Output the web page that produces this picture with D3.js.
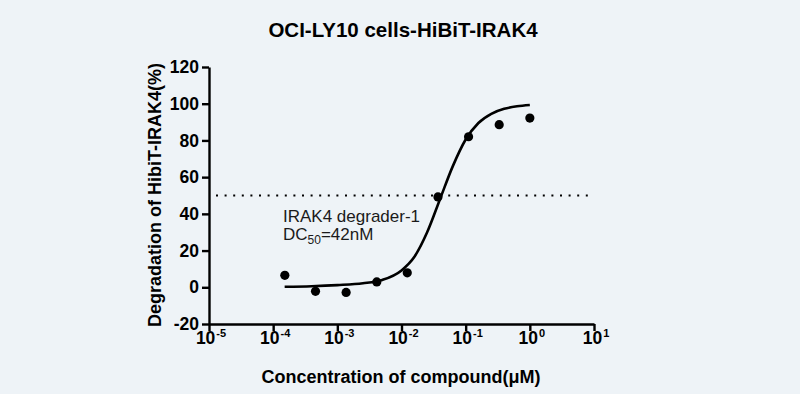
<!DOCTYPE html>
<html>
<head>
<meta charset="utf-8">
<title>OCI-LY10 cells-HiBiT-IRAK4</title>
<script src="https://d3js.org/d3.v7.min.js"></script>
<style>
  body { margin: 0; background: #eef3f7; }
  svg { display: block; font-family: Arial, "Liberation Sans", sans-serif; }
</style>
</head>
<body>
<div id="chart"></div>
<script>
// measured points: concentration (uM) and degradation (%)
var concentrations = [0.000152, 0.000457, 0.00137, 0.00412, 0.0123, 0.037, 0.111, 0.333, 1];
var degradation = [6.5, -2.2, -2.8, 2.9, 7.9, 49.2, 82, 88.6, 92.2];

// fitted curve
var curveConc = [0.000151, 0.000398, 0.001, 0.00251, 0.00501, 0.01, 0.0158, 0.0251, 0.0398, 0.0631, 0.1, 0.158, 0.251, 0.398, 0.631, 1];
var curveDeg = [0.3, 0.6, 1.2, 2.2, 4.0, 9.2, 16.5, 30, 48, 66, 80.5, 89.5, 94.5, 97.2, 98.6, 99.3];

var xTicks = [1e-5, 1e-4, 1e-3, 1e-2, 1e-1, 1, 10];
var xExponents = ["-5", "-4", "-3", "-2", "-1", "0", "1"];
var yTicks = [-20, 0, 20, 40, 60, 80, 100, 120];
var halfLine = 50;

var width = 800, height = 394;

var svg = d3.select("#chart").append("svg")
    .attr("width", width)
    .attr("height", height);

svg.append("rect").attr("width", width).attr("height", height).attr("fill", "#eef3f7");

var x = d3.scaleLog().domain([1e-5, 10]).range([209, 594]);
var y = d3.scaleLinear().domain([-20, 120]).range([324, 67]);

// title
svg.append("text")
    .attr("x", 403).attr("y", 37)
    .attr("text-anchor", "middle")
    .style("font-size", "20.5px").style("font-weight", "bold")
    .text("OCI-LY10 cells-HiBiT-IRAK4");

// dotted 50% line
svg.append("line")
    .attr("x1", 216).attr("x2", x(10))
    .attr("y1", y(halfLine)).attr("y2", y(halfLine))
    .attr("stroke", "#000").attr("stroke-width", 2)
    .attr("stroke-dasharray", "2 6.6");

// y axis
var yAxis = svg.append("g")
    .attr("transform", "translate(" + x(1e-5) + ",0)")
    .call(d3.axisLeft(y).tickValues(yTicks).tickSize(7).tickSizeOuter(0).tickPadding(3)
      .tickFormat(function(d) { return String(d); }));

// x axis
var xAxis = svg.append("g")
    .attr("transform", "translate(0," + y(-20) + ")")
    .call(d3.axisBottom(x).tickValues(xTicks).tickSize(7).tickSizeOuter(0).tickFormat(""));

[yAxis, xAxis].forEach(function(g) {
  g.select(".domain").attr("stroke", "#000").attr("stroke-width", 2.4);
  g.selectAll(".tick line").attr("stroke", "#000").attr("stroke-width", 2.4);
});
yAxis.selectAll(".tick text")
    .attr("fill", "#000")
    .style("font-size", "17.5px").style("font-weight", "bold")
    .style("font-family", "Arial, 'Liberation Sans', sans-serif");

// x tick labels with superscript exponents
var xl = svg.append("g").selectAll("text")
    .data(xTicks)
    .enter().append("text")
    .attr("x", function(d) { return x(d) + 2; })
    .attr("y", 344)
    .attr("text-anchor", "middle")
    .style("font-size", "17.5px").style("font-weight", "bold");
xl.append("tspan").text("10");
xl.append("tspan")
    .attr("dy", -7)
    .attr("dx", 1)
    .style("font-size", "11px")
    .text(function(d, i) { return xExponents[i]; });

// axis titles
svg.append("text")
    .attr("x", 401).attr("y", 383)
    .attr("text-anchor", "middle")
    .style("font-size", "18px").style("font-weight", "bold")
    .text("Concentration of compound(\u03bcM)");

svg.append("text")
    .attr("transform", "translate(161,195) rotate(-90)")
    .attr("text-anchor", "middle")
    .style("font-size", "18px").style("font-weight", "bold")
    .text("Degradation of HibiT-IRAK4(%)");

// fitted curve
var line = d3.line()
    .x(function(d, i) { return x(curveConc[i]); })
    .y(function(d) { return y(d); })
    .curve(d3.curveMonotoneX);

svg.append("path")
    .datum(curveDeg)
    .attr("d", line)
    .attr("fill", "none")
    .attr("stroke", "#000")
    .attr("stroke-width", 2.6);

// data points
svg.append("g").selectAll("circle")
    .data(degradation)
    .enter().append("circle")
    .attr("cx", function(d, i) { return x(concentrations[i]); })
    .attr("cy", function(d) { return y(d); })
    .attr("r", 4.6)
    .attr("fill", "#000");

// annotation
var note = svg.append("text")
    .attr("x", 283).attr("y", 222)
    .attr("fill", "#1a1a1a")
    .style("font-size", "17px");
note.append("tspan").attr("x", 283).text("IRAK4 degrader-1");
var l2 = svg.append("text")
    .attr("x", 283).attr("y", 240)
    .attr("fill", "#1a1a1a")
    .style("font-size", "17px");
l2.append("tspan").text("DC");
l2.append("tspan").attr("dy", 4).style("font-size", "12px").text("50");
l2.append("tspan").attr("dy", -4).text("=42nM");
</script>
</body>
</html>
